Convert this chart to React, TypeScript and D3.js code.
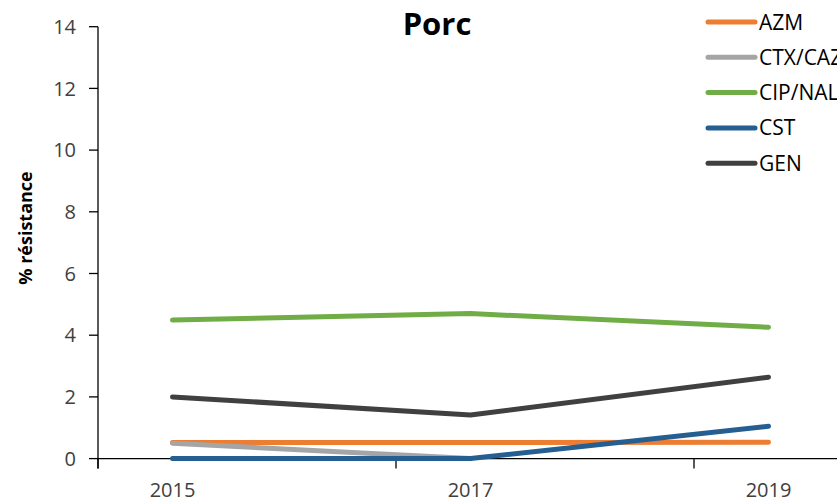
import React from "react";
import * as d3 from "d3";

const categories = ["2015", "2016", "2017", "2018", "2019"];
const dataYears = ["2015", "2017", "2019"];
const tickLabels = ["2015", "2017", "2019"];
const yTicks = [0, 2, 4, 6, 8, 10, 12, 14];

const seriesNames = ["AZM", "CTX/CAZ", "CIP/NAL", "CST", "GEN"];
const seriesColors = ["#ED7D31", "#A5A5A5", "#70AD47", "#255E91", "#404040"];
const azm = [0.52, 0.52, 0.53];
const ctxcaz = [0.5, 0, null];
const cipnal = [4.49, 4.7, 4.26];
const cst = [0, 0, 1.05];
const gen = [2.0, 1.41, 2.64];
const seriesValues = [azm, ctxcaz, cipnal, cst, gen];

const W = 837;
const H = 504;

export default function App() {
  const x = d3.scaleBand<string>().domain(categories).range([98, 98 + 5 * 149]).paddingInner(0).paddingOuter(0);
  const y = d3.scaleLinear().domain([0, 14]).range([458.6, 26.7]);
  const cx = (c: string) => (x(c) as number) + x.bandwidth() / 2;
  const line = d3
    .line<{ c: string; v: number }>()
    .x((d) => cx(d.c))
    .y((d) => y(d.v));

  const font = "'Open Sans', 'Noto Sans', sans-serif";
  const textColor = "#404040";
  const y0 = y(0);

  return (
    <svg width={W} height={H} style={{ position: "absolute", left: 0, top: 0, background: "#fff" }}>
      <rect x={0} y={0} width={W} height={H} fill="#fff" />
      {/* y axis */}
      <line x1={98} x2={98} y1={y(14)} y2={y0 + 10} stroke="#000" strokeWidth={1.3} />
      {yTicks.map((t) => (
        <g key={t}>
          <line x1={89} x2={98} y1={y(t)} y2={y(t)} stroke="#000" strokeWidth={1.3} />
          <text x={76} y={y(t)} dy="0.36em" textAnchor="end" fontFamily={font} fontSize={20} fill={textColor}>
            {t}
          </text>
        </g>
      ))}
      {/* x axis */}
      <line x1={98} x2={W} y1={y0} y2={y0} stroke="#000" strokeWidth={1.3} />
      {tickLabels.map((c) => (
        <g key={c}>
          <line x1={x(c) as number} x2={x(c) as number} y1={y0} y2={y0 + 10} stroke="#000" strokeWidth={1.3} />
          <text x={cx(c)} y={497} textAnchor="middle" fontFamily={font} fontSize={20} fill={textColor}>
            {c}
          </text>
        </g>
      ))}
      {/* lines */}
      {seriesValues.map((vals, i) => {
        const pts = dataYears
          .map((c, j) => ({ c, v: vals[j] as number | null }))
          .filter((d) => d.v !== null) as { c: string; v: number }[];
        return (
          <path
            key={seriesNames[i]}
            d={line(pts) || ""}
            fill="none"
            stroke={seriesColors[i]}
            strokeWidth={5}
            strokeLinecap="round"
            strokeLinejoin="round"
          />
        );
      })}
      {/* title */}
      <text x={437} y={35} textAnchor="middle" fontFamily={font} fontWeight="bold" fontSize={31} fill="#000">
        Porc
      </text>
      {/* y label */}
      <text
        transform={`translate(32, 228) rotate(-90)`}
        textAnchor="middle"
        fontFamily={font}
        fontWeight="bold"
        fontSize={18}
        fill="#000"
      >
        % résistance
      </text>
      {/* legend */}
      {seriesNames.map((n, i) => {
        const ly = 22 + i * 35.3;
        return (
          <g key={n}>
            <line x1={708} x2={755} y1={ly} y2={ly} stroke={seriesColors[i]} strokeWidth={5} strokeLinecap="round" />
            <text x={759} y={ly} dy="0.36em" fontFamily={font} fontSize={21} fill="#000">
              {n}
            </text>
          </g>
        );
      })}
    </svg>
  );
}
